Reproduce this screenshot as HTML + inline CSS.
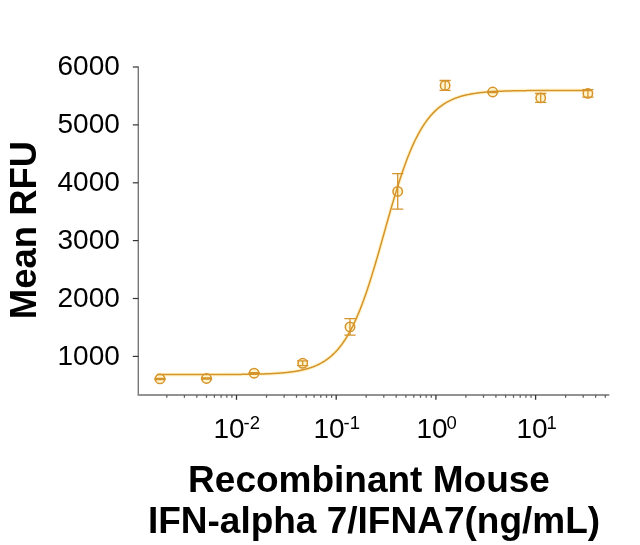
<!DOCTYPE html>
<html><head><meta charset="utf-8"><style>
html,body{margin:0;padding:0;background:#fff;}
svg{display:block;}
text{font-family:"Liberation Sans",Arial,sans-serif;fill:#000;}
.yt{font-size:28px;text-anchor:end;}
.xt{font-size:28px;}
.sup{font-size:18.5px;}
.ttl{font-size:37px;font-weight:bold;}
</style></head><body>
<svg width="640" height="545" viewBox="0 0 640 545">
<rect width="640" height="545" fill="#fff"/>
<line x1="138.3" y1="66.5" x2="138.3" y2="394.95" stroke="#777777" stroke-width="1.4"/>
<line x1="137.60000000000002" y1="394.95" x2="609.3" y2="394.95" stroke="#939393" stroke-width="2"/>
<line x1="132.8" y1="356.4" x2="138.3" y2="356.4" stroke="#333333" stroke-width="1.2"/>
<text x="119.8" y="364.8" class="yt">1000</text>
<line x1="132.8" y1="298.5" x2="138.3" y2="298.5" stroke="#333333" stroke-width="1.2"/>
<text x="119.8" y="306.9" class="yt">2000</text>
<line x1="132.8" y1="240.6" x2="138.3" y2="240.6" stroke="#333333" stroke-width="1.2"/>
<text x="119.8" y="249.0" class="yt">3000</text>
<line x1="132.8" y1="182.8" x2="138.3" y2="182.8" stroke="#333333" stroke-width="1.2"/>
<text x="119.8" y="191.2" class="yt">4000</text>
<line x1="132.8" y1="124.9" x2="138.3" y2="124.9" stroke="#333333" stroke-width="1.2"/>
<text x="119.8" y="133.3" class="yt">5000</text>
<line x1="132.8" y1="67.0" x2="138.3" y2="67.0" stroke="#333333" stroke-width="1.2"/>
<text x="119.8" y="75.4" class="yt">6000</text>
<line x1="166.8" y1="394.95" x2="166.8" y2="397.8" stroke="#5e5e5e" stroke-width="1.25"/>
<line x1="184.4" y1="394.95" x2="184.4" y2="397.8" stroke="#5e5e5e" stroke-width="1.25"/>
<line x1="196.8" y1="394.95" x2="196.8" y2="397.8" stroke="#5e5e5e" stroke-width="1.25"/>
<line x1="206.5" y1="394.95" x2="206.5" y2="397.8" stroke="#5e5e5e" stroke-width="1.25"/>
<line x1="214.4" y1="394.95" x2="214.4" y2="397.8" stroke="#5e5e5e" stroke-width="1.25"/>
<line x1="221.1" y1="394.95" x2="221.1" y2="397.8" stroke="#5e5e5e" stroke-width="1.25"/>
<line x1="226.8" y1="394.95" x2="226.8" y2="397.8" stroke="#5e5e5e" stroke-width="1.25"/>
<line x1="231.9" y1="394.95" x2="231.9" y2="397.8" stroke="#5e5e5e" stroke-width="1.25"/>
<line x1="236.5" y1="394.95" x2="236.5" y2="399.8" stroke="#333333" stroke-width="1.3"/>
<line x1="266.5" y1="394.95" x2="266.5" y2="397.8" stroke="#5e5e5e" stroke-width="1.25"/>
<line x1="284.1" y1="394.95" x2="284.1" y2="397.8" stroke="#5e5e5e" stroke-width="1.25"/>
<line x1="296.5" y1="394.95" x2="296.5" y2="397.8" stroke="#5e5e5e" stroke-width="1.25"/>
<line x1="306.2" y1="394.95" x2="306.2" y2="397.8" stroke="#5e5e5e" stroke-width="1.25"/>
<line x1="314.1" y1="394.95" x2="314.1" y2="397.8" stroke="#5e5e5e" stroke-width="1.25"/>
<line x1="320.8" y1="394.95" x2="320.8" y2="397.8" stroke="#5e5e5e" stroke-width="1.25"/>
<line x1="326.5" y1="394.95" x2="326.5" y2="397.8" stroke="#5e5e5e" stroke-width="1.25"/>
<line x1="331.6" y1="394.95" x2="331.6" y2="397.8" stroke="#5e5e5e" stroke-width="1.25"/>
<line x1="336.2" y1="394.95" x2="336.2" y2="399.8" stroke="#333333" stroke-width="1.3"/>
<line x1="366.2" y1="394.95" x2="366.2" y2="397.8" stroke="#5e5e5e" stroke-width="1.25"/>
<line x1="383.8" y1="394.95" x2="383.8" y2="397.8" stroke="#5e5e5e" stroke-width="1.25"/>
<line x1="396.2" y1="394.95" x2="396.2" y2="397.8" stroke="#5e5e5e" stroke-width="1.25"/>
<line x1="405.9" y1="394.95" x2="405.9" y2="397.8" stroke="#5e5e5e" stroke-width="1.25"/>
<line x1="413.8" y1="394.95" x2="413.8" y2="397.8" stroke="#5e5e5e" stroke-width="1.25"/>
<line x1="420.5" y1="394.95" x2="420.5" y2="397.8" stroke="#5e5e5e" stroke-width="1.25"/>
<line x1="426.2" y1="394.95" x2="426.2" y2="397.8" stroke="#5e5e5e" stroke-width="1.25"/>
<line x1="431.3" y1="394.95" x2="431.3" y2="397.8" stroke="#5e5e5e" stroke-width="1.25"/>
<line x1="435.9" y1="394.95" x2="435.9" y2="399.8" stroke="#333333" stroke-width="1.3"/>
<line x1="465.9" y1="394.95" x2="465.9" y2="397.8" stroke="#5e5e5e" stroke-width="1.25"/>
<line x1="483.5" y1="394.95" x2="483.5" y2="397.8" stroke="#5e5e5e" stroke-width="1.25"/>
<line x1="495.9" y1="394.95" x2="495.9" y2="397.8" stroke="#5e5e5e" stroke-width="1.25"/>
<line x1="505.6" y1="394.95" x2="505.6" y2="397.8" stroke="#5e5e5e" stroke-width="1.25"/>
<line x1="513.5" y1="394.95" x2="513.5" y2="397.8" stroke="#5e5e5e" stroke-width="1.25"/>
<line x1="520.2" y1="394.95" x2="520.2" y2="397.8" stroke="#5e5e5e" stroke-width="1.25"/>
<line x1="525.9" y1="394.95" x2="525.9" y2="397.8" stroke="#5e5e5e" stroke-width="1.25"/>
<line x1="531.0" y1="394.95" x2="531.0" y2="397.8" stroke="#5e5e5e" stroke-width="1.25"/>
<line x1="535.6" y1="394.95" x2="535.6" y2="399.8" stroke="#333333" stroke-width="1.3"/>
<line x1="565.6" y1="394.95" x2="565.6" y2="397.8" stroke="#5e5e5e" stroke-width="1.25"/>
<line x1="583.2" y1="394.95" x2="583.2" y2="397.8" stroke="#5e5e5e" stroke-width="1.25"/>
<line x1="595.6" y1="394.95" x2="595.6" y2="397.8" stroke="#5e5e5e" stroke-width="1.25"/>
<line x1="605.3" y1="394.95" x2="605.3" y2="397.8" stroke="#5e5e5e" stroke-width="1.25"/>
<path d="M157.0,374.60 L158.0,374.60 L159.0,374.60 L160.0,374.60 L161.0,374.60 L162.0,374.60 L163.0,374.60 L164.0,374.60 L165.0,374.60 L166.0,374.59 L167.0,374.59 L168.0,374.59 L169.0,374.59 L170.0,374.59 L171.0,374.59 L172.0,374.59 L173.0,374.59 L174.0,374.59 L175.0,374.59 L176.0,374.59 L177.0,374.59 L178.0,374.59 L179.0,374.59 L180.0,374.59 L181.0,374.59 L182.0,374.59 L183.0,374.59 L184.0,374.59 L185.0,374.59 L186.0,374.59 L187.0,374.59 L188.0,374.58 L189.0,374.58 L190.0,374.58 L191.0,374.58 L192.0,374.58 L193.0,374.58 L194.0,374.58 L195.0,374.58 L196.0,374.58 L197.0,374.58 L198.0,374.58 L199.0,374.57 L200.0,374.57 L201.0,374.57 L202.0,374.57 L203.0,374.57 L204.0,374.57 L205.0,374.56 L206.0,374.56 L207.0,374.56 L208.0,374.56 L209.0,374.56 L210.0,374.55 L211.0,374.55 L212.0,374.55 L213.0,374.55 L214.0,374.54 L215.0,374.54 L216.0,374.54 L217.0,374.54 L218.0,374.53 L219.0,374.53 L220.0,374.52 L221.0,374.52 L222.0,374.52 L223.0,374.51 L224.0,374.51 L225.0,374.50 L226.0,374.50 L227.0,374.49 L228.0,374.49 L229.0,374.48 L230.0,374.48 L231.0,374.47 L232.0,374.46 L233.0,374.46 L234.0,374.45 L235.0,374.44 L236.0,374.43 L237.0,374.42 L238.0,374.41 L239.0,374.41 L240.0,374.40 L241.0,374.38 L242.0,374.37 L243.0,374.36 L244.0,374.35 L245.0,374.34 L246.0,374.32 L247.0,374.31 L248.0,374.29 L249.0,374.28 L250.0,374.26 L251.0,374.24 L252.0,374.23 L253.0,374.21 L254.0,374.19 L255.0,374.17 L256.0,374.14 L257.0,374.12 L258.0,374.10 L259.0,374.07 L260.0,374.04 L261.0,374.01 L262.0,373.98 L263.0,373.95 L264.0,373.92 L265.0,373.88 L266.0,373.85 L267.0,373.81 L268.0,373.77 L269.0,373.72 L270.0,373.68 L271.0,373.63 L272.0,373.58 L273.0,373.53 L274.0,373.48 L275.0,373.42 L276.0,373.36 L277.0,373.29 L278.0,373.23 L279.0,373.16 L280.0,373.08 L281.0,373.01 L282.0,372.93 L283.0,372.84 L284.0,372.75 L285.0,372.65 L286.0,372.56 L287.0,372.45 L288.0,372.34 L289.0,372.23 L290.0,372.11 L291.0,371.98 L292.0,371.85 L293.0,371.70 L294.0,371.56 L295.0,371.40 L296.0,371.24 L297.0,371.07 L298.0,370.89 L299.0,370.70 L300.0,370.51 L301.0,370.30 L302.0,370.08 L303.0,369.85 L304.0,369.61 L305.0,369.36 L306.0,369.10 L307.0,368.82 L308.0,368.53 L309.0,368.22 L310.0,367.90 L311.0,367.57 L312.0,367.21 L313.0,366.84 L314.0,366.46 L315.0,366.05 L316.0,365.63 L317.0,365.18 L318.0,364.71 L319.0,364.22 L320.0,363.71 L321.0,363.17 L322.0,362.61 L323.0,362.02 L324.0,361.40 L325.0,360.76 L326.0,360.08 L327.0,359.38 L328.0,358.64 L329.0,357.86 L330.0,357.06 L331.0,356.21 L332.0,355.33 L333.0,354.41 L334.0,353.45 L335.0,352.45 L336.0,351.40 L337.0,350.31 L338.0,349.17 L339.0,347.99 L340.0,346.76 L341.0,345.47 L342.0,344.13 L343.0,342.74 L344.0,341.30 L345.0,339.79 L346.0,338.23 L347.0,336.61 L348.0,334.93 L349.0,333.19 L350.0,331.38 L351.0,329.52 L352.0,327.58 L353.0,325.58 L354.0,323.51 L355.0,321.38 L356.0,319.17 L357.0,316.90 L358.0,314.56 L359.0,312.16 L360.0,309.68 L361.0,307.13 L362.0,304.52 L363.0,301.84 L364.0,299.09 L365.0,296.28 L366.0,293.40 L367.0,290.46 L368.0,287.46 L369.0,284.40 L370.0,281.29 L371.0,278.12 L372.0,274.90 L373.0,271.63 L374.0,268.32 L375.0,264.96 L376.0,261.57 L377.0,258.14 L378.0,254.67 L379.0,251.19 L380.0,247.67 L381.0,244.14 L382.0,240.60 L383.0,237.04 L384.0,233.48 L385.0,229.92 L386.0,226.36 L387.0,222.81 L388.0,219.27 L389.0,215.75 L390.0,212.25 L391.0,208.77 L392.0,205.32 L393.0,201.91 L394.0,198.53 L395.0,195.19 L396.0,191.90 L397.0,188.65 L398.0,185.45 L399.0,182.31 L400.0,179.22 L401.0,176.18 L402.0,173.21 L403.0,170.30 L404.0,167.45 L405.0,164.67 L406.0,161.95 L407.0,159.30 L408.0,156.72 L409.0,154.20 L410.0,151.76 L411.0,149.38 L412.0,147.07 L413.0,144.83 L414.0,142.66 L415.0,140.55 L416.0,138.51 L417.0,136.54 L418.0,134.64 L419.0,132.80 L420.0,131.02 L421.0,129.31 L422.0,127.65 L423.0,126.06 L424.0,124.53 L425.0,123.05 L426.0,121.63 L427.0,120.26 L428.0,118.95 L429.0,117.69 L430.0,116.47 L431.0,115.31 L432.0,114.19 L433.0,113.12 L434.0,112.10 L435.0,111.11 L436.0,110.17 L437.0,109.27 L438.0,108.40 L439.0,107.58 L440.0,106.78 L441.0,106.03 L442.0,105.30 L443.0,104.61 L444.0,103.95 L445.0,103.32 L446.0,102.71 L447.0,102.14 L448.0,101.58 L449.0,101.06 L450.0,100.56 L451.0,100.08 L452.0,99.62 L453.0,99.18 L454.0,98.76 L455.0,98.37 L456.0,97.99 L457.0,97.63 L458.0,97.28 L459.0,96.95 L460.0,96.64 L461.0,96.34 L462.0,96.06 L463.0,95.78 L464.0,95.53 L465.0,95.28 L466.0,95.04 L467.0,94.82 L468.0,94.61 L469.0,94.40 L470.0,94.21 L471.0,94.03 L472.0,93.85 L473.0,93.69 L474.0,93.53 L475.0,93.38 L476.0,93.23 L477.0,93.09 L478.0,92.96 L479.0,92.84 L480.0,92.72 L481.0,92.61 L482.0,92.50 L483.0,92.40 L484.0,92.30 L485.0,92.21 L486.0,92.12 L487.0,92.04 L488.0,91.96 L489.0,91.88 L490.0,91.81 L491.0,91.74 L492.0,91.68 L493.0,91.61 L494.0,91.56 L495.0,91.50 L496.0,91.45 L497.0,91.39 L498.0,91.35 L499.0,91.30 L500.0,91.26 L501.0,91.21 L502.0,91.17 L503.0,91.14 L504.0,91.10 L505.0,91.07 L506.0,91.03 L507.0,91.00 L508.0,90.97 L509.0,90.95 L510.0,90.92 L511.0,90.89 L512.0,90.87 L513.0,90.85 L514.0,90.82 L515.0,90.80 L516.0,90.78 L517.0,90.77 L518.0,90.75 L519.0,90.73 L520.0,90.71 L521.0,90.70 L522.0,90.68 L523.0,90.67 L524.0,90.66 L525.0,90.64 L526.0,90.63 L527.0,90.62 L528.0,90.61 L529.0,90.60 L530.0,90.59 L531.0,90.58 L532.0,90.57 L533.0,90.56 L534.0,90.56 L535.0,90.55 L536.0,90.54 L537.0,90.53 L538.0,90.53 L539.0,90.52 L540.0,90.52 L541.0,90.51 L542.0,90.50 L543.0,90.50 L544.0,90.49 L545.0,90.49 L546.0,90.49 L547.0,90.48 L548.0,90.48 L549.0,90.47 L550.0,90.47 L551.0,90.47 L552.0,90.46 L553.0,90.46 L554.0,90.46 L555.0,90.45 L556.0,90.45 L557.0,90.45 L558.0,90.45 L559.0,90.44 L560.0,90.44 L561.0,90.44 L562.0,90.44 L563.0,90.44 L564.0,90.43 L565.0,90.43 L566.0,90.43 L567.0,90.43 L568.0,90.43 L569.0,90.43 L570.0,90.43 L571.0,90.42 L572.0,90.42 L573.0,90.42 L574.0,90.42 L575.0,90.42 L576.0,90.42 L577.0,90.42 L578.0,90.42 L579.0,90.42 L580.0,90.42 L581.0,90.41 L582.0,90.41 L583.0,90.41 L584.0,90.41 L585.0,90.41 L586.0,90.41 L587.0,90.41 L588.0,90.41 L589.0,90.41 L590.0,90.41 L591.0,90.41" fill="none" stroke="#FFF4CC" stroke-width="3.8"/>
<circle cx="160.0" cy="378.9" r="5.2" fill="#FFF4CC"/>
<circle cx="206.5" cy="378.5" r="5.2" fill="#FFF4CC"/>
<circle cx="254.1" cy="373.2" r="5.2" fill="#FFF4CC"/>
<circle cx="302.7" cy="363.3" r="5.2" fill="#FFF4CC"/>
<circle cx="350.0" cy="326.9" r="5.2" fill="#FFF4CC"/>
<circle cx="397.7" cy="191.4" r="5.2" fill="#FFF4CC"/>
<circle cx="445.1" cy="85.4" r="5.2" fill="#FFF4CC"/>
<circle cx="492.7" cy="92.0" r="5.2" fill="#FFF4CC"/>
<circle cx="540.7" cy="97.9" r="5.2" fill="#FFF4CC"/>
<circle cx="587.9" cy="93.4" r="5.2" fill="#FFF4CC"/>
<path d="M157.0,374.60 L158.0,374.60 L159.0,374.60 L160.0,374.60 L161.0,374.60 L162.0,374.60 L163.0,374.60 L164.0,374.60 L165.0,374.60 L166.0,374.59 L167.0,374.59 L168.0,374.59 L169.0,374.59 L170.0,374.59 L171.0,374.59 L172.0,374.59 L173.0,374.59 L174.0,374.59 L175.0,374.59 L176.0,374.59 L177.0,374.59 L178.0,374.59 L179.0,374.59 L180.0,374.59 L181.0,374.59 L182.0,374.59 L183.0,374.59 L184.0,374.59 L185.0,374.59 L186.0,374.59 L187.0,374.59 L188.0,374.58 L189.0,374.58 L190.0,374.58 L191.0,374.58 L192.0,374.58 L193.0,374.58 L194.0,374.58 L195.0,374.58 L196.0,374.58 L197.0,374.58 L198.0,374.58 L199.0,374.57 L200.0,374.57 L201.0,374.57 L202.0,374.57 L203.0,374.57 L204.0,374.57 L205.0,374.56 L206.0,374.56 L207.0,374.56 L208.0,374.56 L209.0,374.56 L210.0,374.55 L211.0,374.55 L212.0,374.55 L213.0,374.55 L214.0,374.54 L215.0,374.54 L216.0,374.54 L217.0,374.54 L218.0,374.53 L219.0,374.53 L220.0,374.52 L221.0,374.52 L222.0,374.52 L223.0,374.51 L224.0,374.51 L225.0,374.50 L226.0,374.50 L227.0,374.49 L228.0,374.49 L229.0,374.48 L230.0,374.48 L231.0,374.47 L232.0,374.46 L233.0,374.46 L234.0,374.45 L235.0,374.44 L236.0,374.43 L237.0,374.42 L238.0,374.41 L239.0,374.41 L240.0,374.40 L241.0,374.38 L242.0,374.37 L243.0,374.36 L244.0,374.35 L245.0,374.34 L246.0,374.32 L247.0,374.31 L248.0,374.29 L249.0,374.28 L250.0,374.26 L251.0,374.24 L252.0,374.23 L253.0,374.21 L254.0,374.19 L255.0,374.17 L256.0,374.14 L257.0,374.12 L258.0,374.10 L259.0,374.07 L260.0,374.04 L261.0,374.01 L262.0,373.98 L263.0,373.95 L264.0,373.92 L265.0,373.88 L266.0,373.85 L267.0,373.81 L268.0,373.77 L269.0,373.72 L270.0,373.68 L271.0,373.63 L272.0,373.58 L273.0,373.53 L274.0,373.48 L275.0,373.42 L276.0,373.36 L277.0,373.29 L278.0,373.23 L279.0,373.16 L280.0,373.08 L281.0,373.01 L282.0,372.93 L283.0,372.84 L284.0,372.75 L285.0,372.65 L286.0,372.56 L287.0,372.45 L288.0,372.34 L289.0,372.23 L290.0,372.11 L291.0,371.98 L292.0,371.85 L293.0,371.70 L294.0,371.56 L295.0,371.40 L296.0,371.24 L297.0,371.07 L298.0,370.89 L299.0,370.70 L300.0,370.51 L301.0,370.30 L302.0,370.08 L303.0,369.85 L304.0,369.61 L305.0,369.36 L306.0,369.10 L307.0,368.82 L308.0,368.53 L309.0,368.22 L310.0,367.90 L311.0,367.57 L312.0,367.21 L313.0,366.84 L314.0,366.46 L315.0,366.05 L316.0,365.63 L317.0,365.18 L318.0,364.71 L319.0,364.22 L320.0,363.71 L321.0,363.17 L322.0,362.61 L323.0,362.02 L324.0,361.40 L325.0,360.76 L326.0,360.08 L327.0,359.38 L328.0,358.64 L329.0,357.86 L330.0,357.06 L331.0,356.21 L332.0,355.33 L333.0,354.41 L334.0,353.45 L335.0,352.45 L336.0,351.40 L337.0,350.31 L338.0,349.17 L339.0,347.99 L340.0,346.76 L341.0,345.47 L342.0,344.13 L343.0,342.74 L344.0,341.30 L345.0,339.79 L346.0,338.23 L347.0,336.61 L348.0,334.93 L349.0,333.19 L350.0,331.38 L351.0,329.52 L352.0,327.58 L353.0,325.58 L354.0,323.51 L355.0,321.38 L356.0,319.17 L357.0,316.90 L358.0,314.56 L359.0,312.16 L360.0,309.68 L361.0,307.13 L362.0,304.52 L363.0,301.84 L364.0,299.09 L365.0,296.28 L366.0,293.40 L367.0,290.46 L368.0,287.46 L369.0,284.40 L370.0,281.29 L371.0,278.12 L372.0,274.90 L373.0,271.63 L374.0,268.32 L375.0,264.96 L376.0,261.57 L377.0,258.14 L378.0,254.67 L379.0,251.19 L380.0,247.67 L381.0,244.14 L382.0,240.60 L383.0,237.04 L384.0,233.48 L385.0,229.92 L386.0,226.36 L387.0,222.81 L388.0,219.27 L389.0,215.75 L390.0,212.25 L391.0,208.77 L392.0,205.32 L393.0,201.91 L394.0,198.53 L395.0,195.19 L396.0,191.90 L397.0,188.65 L398.0,185.45 L399.0,182.31 L400.0,179.22 L401.0,176.18 L402.0,173.21 L403.0,170.30 L404.0,167.45 L405.0,164.67 L406.0,161.95 L407.0,159.30 L408.0,156.72 L409.0,154.20 L410.0,151.76 L411.0,149.38 L412.0,147.07 L413.0,144.83 L414.0,142.66 L415.0,140.55 L416.0,138.51 L417.0,136.54 L418.0,134.64 L419.0,132.80 L420.0,131.02 L421.0,129.31 L422.0,127.65 L423.0,126.06 L424.0,124.53 L425.0,123.05 L426.0,121.63 L427.0,120.26 L428.0,118.95 L429.0,117.69 L430.0,116.47 L431.0,115.31 L432.0,114.19 L433.0,113.12 L434.0,112.10 L435.0,111.11 L436.0,110.17 L437.0,109.27 L438.0,108.40 L439.0,107.58 L440.0,106.78 L441.0,106.03 L442.0,105.30 L443.0,104.61 L444.0,103.95 L445.0,103.32 L446.0,102.71 L447.0,102.14 L448.0,101.58 L449.0,101.06 L450.0,100.56 L451.0,100.08 L452.0,99.62 L453.0,99.18 L454.0,98.76 L455.0,98.37 L456.0,97.99 L457.0,97.63 L458.0,97.28 L459.0,96.95 L460.0,96.64 L461.0,96.34 L462.0,96.06 L463.0,95.78 L464.0,95.53 L465.0,95.28 L466.0,95.04 L467.0,94.82 L468.0,94.61 L469.0,94.40 L470.0,94.21 L471.0,94.03 L472.0,93.85 L473.0,93.69 L474.0,93.53 L475.0,93.38 L476.0,93.23 L477.0,93.09 L478.0,92.96 L479.0,92.84 L480.0,92.72 L481.0,92.61 L482.0,92.50 L483.0,92.40 L484.0,92.30 L485.0,92.21 L486.0,92.12 L487.0,92.04 L488.0,91.96 L489.0,91.88 L490.0,91.81 L491.0,91.74 L492.0,91.68 L493.0,91.61 L494.0,91.56 L495.0,91.50 L496.0,91.45 L497.0,91.39 L498.0,91.35 L499.0,91.30 L500.0,91.26 L501.0,91.21 L502.0,91.17 L503.0,91.14 L504.0,91.10 L505.0,91.07 L506.0,91.03 L507.0,91.00 L508.0,90.97 L509.0,90.95 L510.0,90.92 L511.0,90.89 L512.0,90.87 L513.0,90.85 L514.0,90.82 L515.0,90.80 L516.0,90.78 L517.0,90.77 L518.0,90.75 L519.0,90.73 L520.0,90.71 L521.0,90.70 L522.0,90.68 L523.0,90.67 L524.0,90.66 L525.0,90.64 L526.0,90.63 L527.0,90.62 L528.0,90.61 L529.0,90.60 L530.0,90.59 L531.0,90.58 L532.0,90.57 L533.0,90.56 L534.0,90.56 L535.0,90.55 L536.0,90.54 L537.0,90.53 L538.0,90.53 L539.0,90.52 L540.0,90.52 L541.0,90.51 L542.0,90.50 L543.0,90.50 L544.0,90.49 L545.0,90.49 L546.0,90.49 L547.0,90.48 L548.0,90.48 L549.0,90.47 L550.0,90.47 L551.0,90.47 L552.0,90.46 L553.0,90.46 L554.0,90.46 L555.0,90.45 L556.0,90.45 L557.0,90.45 L558.0,90.45 L559.0,90.44 L560.0,90.44 L561.0,90.44 L562.0,90.44 L563.0,90.44 L564.0,90.43 L565.0,90.43 L566.0,90.43 L567.0,90.43 L568.0,90.43 L569.0,90.43 L570.0,90.43 L571.0,90.42 L572.0,90.42 L573.0,90.42 L574.0,90.42 L575.0,90.42 L576.0,90.42 L577.0,90.42 L578.0,90.42 L579.0,90.42 L580.0,90.42 L581.0,90.41 L582.0,90.41 L583.0,90.41 L584.0,90.41 L585.0,90.41 L586.0,90.41 L587.0,90.41 L588.0,90.41 L589.0,90.41 L590.0,90.41 L591.0,90.41" fill="none" stroke="#D5932B" stroke-width="1.5"/>
<circle cx="160.0" cy="378.9" r="4.7" fill="none" stroke="#D5932B" stroke-width="1.5"/>
<path d="M154.4,378.3 H165.6 M154.4,379.5 H165.6 M160.0,378.3 V379.5" stroke="#D5932B" stroke-width="1.3" fill="none"/>
<circle cx="206.5" cy="378.5" r="4.7" fill="none" stroke="#D5932B" stroke-width="1.5"/>
<path d="M200.9,377.9 H212.1 M200.9,379.1 H212.1 M206.5,377.9 V379.1" stroke="#D5932B" stroke-width="1.3" fill="none"/>
<circle cx="254.1" cy="373.2" r="4.7" fill="none" stroke="#D5932B" stroke-width="1.5"/>
<path d="M248.5,372.6 H259.7 M248.5,373.8 H259.7 M254.1,372.6 V373.8" stroke="#D5932B" stroke-width="1.3" fill="none"/>
<circle cx="302.7" cy="363.3" r="4.7" fill="none" stroke="#D5932B" stroke-width="1.5"/>
<path d="M297.1,360.9 H308.3 M297.1,365.7 H308.3 M302.7,360.9 V365.7" stroke="#D5932B" stroke-width="1.3" fill="none"/>
<circle cx="350.0" cy="326.9" r="4.7" fill="none" stroke="#D5932B" stroke-width="1.5"/>
<path d="M344.4,318.7 H355.6 M344.4,335.1 H355.6 M350.0,318.7 V335.1" stroke="#D5932B" stroke-width="1.3" fill="none"/>
<circle cx="397.7" cy="191.4" r="4.7" fill="none" stroke="#D5932B" stroke-width="1.5"/>
<path d="M392.1,173.7 H403.3 M392.1,209.1 H403.3 M397.7,173.7 V209.1" stroke="#D5932B" stroke-width="1.3" fill="none"/>
<circle cx="445.1" cy="85.4" r="4.7" fill="none" stroke="#D5932B" stroke-width="1.5"/>
<path d="M439.5,80.5 H450.7 M439.5,90.4 H450.7 M445.1,80.5 V90.4" stroke="#D5932B" stroke-width="1.3" fill="none"/>
<circle cx="492.7" cy="92.0" r="4.7" fill="none" stroke="#D5932B" stroke-width="1.5"/>
<path d="M487.1,91.4 H498.3 M487.1,92.6 H498.3 M492.7,91.4 V92.6" stroke="#D5932B" stroke-width="1.3" fill="none"/>
<circle cx="540.7" cy="97.9" r="4.7" fill="none" stroke="#D5932B" stroke-width="1.5"/>
<path d="M535.1,93.5 H546.3 M535.1,102.4 H546.3 M540.7,93.5 V102.4" stroke="#D5932B" stroke-width="1.3" fill="none"/>
<circle cx="587.9" cy="93.4" r="4.7" fill="none" stroke="#D5932B" stroke-width="1.5"/>
<path d="M582.3,89.6 H593.5 M582.3,97.2 H593.5 M587.9,89.6 V97.2" stroke="#D5932B" stroke-width="1.3" fill="none"/>
<text x="213.4" y="437.8" class="xt">10<tspan class="sup" dx="-1" dy="-9.3">-2</tspan></text>
<text x="313.4" y="437.8" class="xt">10<tspan class="sup" dx="-1" dy="-9.3">-1</tspan></text>
<text x="416.4" y="437.8" class="xt">10<tspan class="sup" dx="-1" dy="-9.3">0</tspan></text>
<text x="516.4" y="437.8" class="xt">10<tspan class="sup" dx="-1" dy="-9.3">1</tspan></text>
<text transform="translate(36,230) rotate(-90)" text-anchor="middle" style="font-size:36.5px;font-weight:bold">Mean RFU</text>
<text x="369" y="492.2" text-anchor="middle" class="ttl">Recombinant Mouse</text>
<text x="374" y="533.3" text-anchor="middle" class="ttl">IFN-alpha 7/IFNA7(ng/mL)</text>
</svg>
</body></html>
